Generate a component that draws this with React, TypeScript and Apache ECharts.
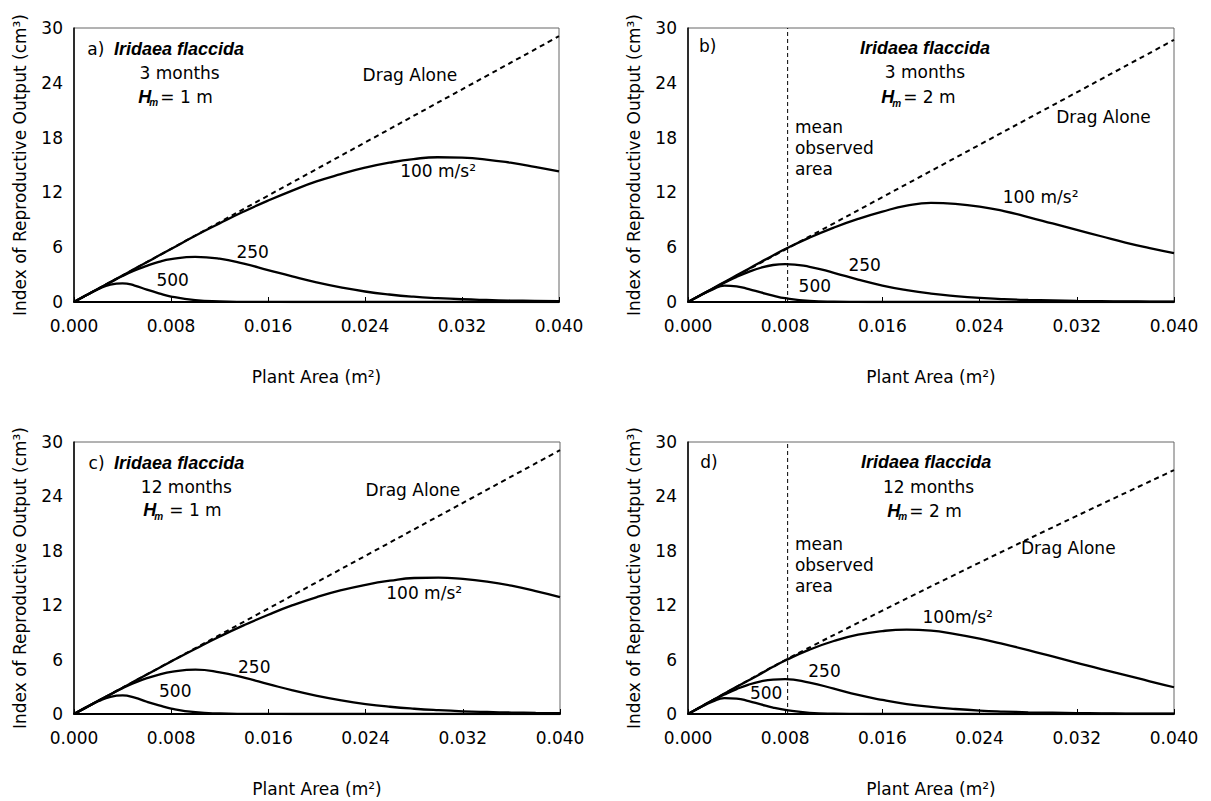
import React, { useEffect, useRef } from "react";
import * as echarts from "echarts";

// Plant area samples (m^2) shared by all curves
const areas = [0, 0.001, 0.002, 0.003, 0.004, 0.005, 0.006, 0.007, 0.008, 0.010, 0.012, 0.014, 0.016, 0.018, 0.020, 0.022, 0.024, 0.026, 0.028, 0.030, 0.032, 0.034, 0.036, 0.038, 0.040];
const xTicks = [0, 0.008, 0.016, 0.024, 0.032, 0.04];
const yTicks = [0, 6, 12, 18, 24, 30];

// Panel a) 3 months, Hm = 1 m
const a100 = [0, 0.73, 1.45, 2.18, 2.9, 3.63, 4.35, 5.08, 5.8, 7.25, 8.6, 9.9, 11.1, 12.2, 13.2, 14.0, 14.7, 15.25, 15.65, 15.85, 15.8, 15.6, 15.25, 14.8, 14.3];
const a250 = [0, 0.73, 1.45, 2.15, 2.85, 3.45, 3.95, 4.4, 4.7, 4.95, 4.75, 4.2, 3.5, 2.8, 2.15, 1.6, 1.15, 0.82, 0.58, 0.42, 0.3, 0.22, 0.16, 0.12, 0.09];
const a500 = [0, 0.73, 1.4, 1.9, 2.05, 1.8, 1.35, 0.95, 0.6, 0.2, 0.06, 0.02, 0.01, 0, 0, 0, 0, 0, 0, 0, 0, 0, 0, 0, 0];
const aDragAreas = [0, 0.04];
const aDrag = [0, 29.1];

// Panel b) 3 months, Hm = 2 m
const b100 = [0, 0.73, 1.46, 2.19, 2.92, 3.65, 4.38, 5.1, 5.8, 7.05, 8.15, 9.1, 9.9, 10.55, 10.85, 10.75, 10.45, 9.95, 9.3, 8.6, 7.9, 7.2, 6.5, 5.9, 5.35];
const b250 = [0, 0.72, 1.43, 2.1, 2.75, 3.3, 3.75, 4.05, 4.15, 3.85, 3.2, 2.45, 1.8, 1.3, 0.92, 0.65, 0.45, 0.32, 0.23, 0.17, 0.12, 0.09, 0.07, 0.05, 0.04];
const b500 = [0, 0.72, 1.35, 1.8, 1.72, 1.42, 1.05, 0.7, 0.42, 0.12, 0.03, 0.01, 0, 0, 0, 0, 0, 0, 0, 0, 0, 0, 0, 0, 0];
const bDragAreas = [0, 0.04];
const bDrag = [0, 28.7];

// Panel c) 12 months, Hm = 1 m
const c100 = [0, 0.73, 1.45, 2.18, 2.9, 3.63, 4.35, 5.08, 5.8, 7.2, 8.55, 9.8, 10.95, 12.0, 12.9, 13.65, 14.25, 14.7, 15.0, 15.05, 14.9, 14.6, 14.15, 13.55, 12.9];
const c250 = [0, 0.73, 1.45, 2.15, 2.85, 3.45, 3.95, 4.35, 4.65, 4.9, 4.6, 4.0, 3.3, 2.6, 2.0, 1.5, 1.1, 0.8, 0.58, 0.42, 0.3, 0.22, 0.16, 0.12, 0.09];
const c500 = [0, 0.73, 1.4, 1.9, 2.05, 1.8, 1.35, 0.95, 0.6, 0.2, 0.06, 0.02, 0.01, 0, 0, 0, 0, 0, 0, 0, 0, 0, 0, 0, 0];
const cDragAreas = [0, 0.04];
const cDrag = [0, 29.1];

// Panel d) 12 months, Hm = 2 m
const d100 = [0, 0.75, 1.5, 2.25, 3.0, 3.72, 4.45, 5.2, 5.9, 7.1, 8.05, 8.75, 9.15, 9.3, 9.2, 8.8, 8.3, 7.7, 7.05, 6.35, 5.65, 4.95, 4.3, 3.6, 2.95];
const d250 = [0, 0.75, 1.48, 2.15, 2.75, 3.25, 3.6, 3.8, 3.85, 3.45, 2.8, 2.1, 1.55, 1.1, 0.78, 0.55, 0.38, 0.27, 0.19, 0.14, 0.1, 0.07, 0.05, 0.04, 0.03];
const d500 = [0, 0.72, 1.35, 1.74, 1.7, 1.42, 1.05, 0.7, 0.45, 0.13, 0.03, 0.01, 0, 0, 0, 0, 0, 0, 0, 0, 0, 0, 0, 0, 0];
const dDragAreas = [0, 0.004, 0.008, 0.016, 0.024, 0.032, 0.04];
const dDrag = [0, 3.0, 5.95, 11.4, 16.7, 21.85, 26.9];

const meanObservedArea = 0.0082;

const panels = [
  { letter: "a)", months: "3 months", hm: "1 m", c100: a100, c250: a250, c500: a500, dragX: aDragAreas, drag: aDrag, mean: false, label100: "100 m/s²" },
  { letter: "b)", months: "3 months", hm: "2 m", c100: b100, c250: b250, c500: b500, dragX: bDragAreas, drag: bDrag, mean: true, label100: "100 m/s²" },
  { letter: "c)", months: "12 months", hm: "1 m", c100: c100, c250: c250, c500: c500, dragX: cDragAreas, drag: cDrag, mean: false, label100: "100 m/s²" },
  { letter: "d)", months: "12 months", hm: "2 m", c100: d100, c250: d250, c500: d500, dragX: dDragAreas, drag: dDrag, mean: true, label100: "100m/s²" },
];

// Layout (pixels)
const grids = [
  { left: 74, top: 28, width: 485, height: 274 },
  { left: 688, top: 28, width: 486, height: 274 },
  { left: 74, top: 442, width: 486, height: 272 },
  { left: 688, top: 442, width: 486, height: 272 },
];

// annotation positions in data coordinates [x, y], alignment
const annot = [
  {
    letter: [0.0011, 27.7], species: [0.0033, 27.7, "left"], months: [0.0054, 25.1, "left"], hm: [0.0053, 22.5], hmGap: 22,
    drag: [0.0238, 24.8], l100: [0.0269, 14.3], l250: [0.0134, 5.5], l500: [0.0068, 2.4],
  },
  {
    letter: [0.0009, 28.0], species: [0.0195, 27.8, "center"], months: [0.0195, 25.2, "center"], hm: [0.0159, 22.4], hmGap: 22,
    drag: [0.0303, 20.3], l100: [0.0259, 11.5], l250: [0.0132, 4.1], l500: [0.0091, 1.7], meanText: [0.0088, 19.2],
  },
  {
    letter: [0.0012, 27.7], species: [0.0033, 27.7, "left"], months: [0.0055, 25.05, "left"], hm: [0.0057, 22.5], hmGap: 26,
    drag: [0.024, 24.7], l100: [0.0257, 13.3], l250: [0.0135, 5.2], l500: [0.007, 2.5],
  },
  {
    letter: [0.001, 27.8], species: [0.0196, 27.8, "center"], months: [0.0198, 25.05, "center"], hm: [0.0164, 22.4], hmGap: 22,
    drag: [0.0274, 18.3], l100: [0.0193, 10.7], l250: [0.0099, 4.7], l500: [0.0051, 2.3], meanText: [0.0088, 18.8],
  },
];

const FONT = '"DejaVu Sans", "Liberation Sans", sans-serif';
const SPECIES_FONT = '"Liberation Sans", Arial, sans-serif';

function px(i: number, x: number, y: number): [number, number] {
  const g = grids[i];
  return [g.left + (x / 0.04) * g.width, g.top + (1 - y / 30) * g.height];
}

function txt(i: number, pos: number[], text: string, align = "left", extra: any = {}) {
  const [x, y] = px(i, pos[0], pos[1]);
  return {
    type: "text",
    x,
    y,
    silent: true,
    style: {
      text,
      fill: "#000",
      fontSize: 17,
      fontFamily: FONT,
      align,
      verticalAlign: "middle",
      textAlign: align,
      textVerticalAlign: "middle",
      ...extra,
    },
  };
}

function buildOption() {
  const series: any[] = [];
  const graphics: any[] = [];
  panels.forEach((p, i) => {
    series.push({
      type: "line",
      xAxisIndex: i,
      yAxisIndex: i,
      data: p.dragX.map((a, k) => [a, p.drag[k]]),
      symbol: "none",
      smooth: 0.4,
      lineStyle: { color: "#000", width: 2, type: [5, 4] },
      z: 2,
    });
    [p.c100, p.c250, p.c500].forEach((vals) => {
      series.push({
        type: "line",
        xAxisIndex: i,
        yAxisIndex: i,
        data: areas.map((a, k) => [a, vals[k]]),
        symbol: "none",
        smooth: 0.5,
        lineStyle: { color: "#000", width: 2.3 },
        z: 3,
      });
    });
    if (p.mean) {
      series.push({
        type: "line",
        xAxisIndex: i,
        yAxisIndex: i,
        data: [[meanObservedArea, 0], [meanObservedArea, 30]],
        symbol: "none",
        lineStyle: { color: "#000", width: 1, type: [4, 3] },
        z: 1,
      });
    }
    const an: any = annot[i];
    graphics.push(txt(i, an.letter, p.letter));
    graphics.push(
      txt(i, an.species, "Iridaea flaccida", an.species[2], {
        fontStyle: "italic",
        fontWeight: "bold",
        fontSize: 18,
        fontFamily: SPECIES_FONT,
      })
    );
    graphics.push(txt(i, an.months, p.months, an.months[2]));
    const [hx, hy] = px(i, an.hm[0], an.hm[1]);
    graphics.push({
      type: "text", x: hx, y: hy, silent: true,
      style: { text: "H", fill: "#000", fontSize: 18, fontStyle: "italic", fontWeight: "bold", fontFamily: SPECIES_FONT, align: "left", verticalAlign: "middle" },
    });
    graphics.push({
      type: "text", x: hx + 11, y: hy + 6, silent: true,
      style: { text: "m", fill: "#000", fontSize: 10, fontStyle: "italic", fontWeight: "bold", fontFamily: SPECIES_FONT, align: "left", verticalAlign: "middle" },
    });
    graphics.push({
      type: "text", x: hx + an.hmGap, y: hy, silent: true,
      style: { text: "= " + p.hm, fill: "#000", fontSize: 17, fontFamily: FONT, align: "left", verticalAlign: "middle" },
    });
    graphics.push(txt(i, an.drag, "Drag Alone"));
    graphics.push(txt(i, an.l100, p.label100));
    graphics.push(txt(i, an.l250, "250"));
    graphics.push(txt(i, an.l500, "500"));
    if (an.meanText) {
      const [mx, my] = px(i, an.meanText[0], an.meanText[1]);
      graphics.push({
        type: "text", x: mx, y: my - 10, silent: true,
        style: { text: "mean\nobserved\narea", fill: "#000", fontSize: 17, fontFamily: FONT, lineHeight: 21, align: "left", verticalAlign: "top" },
      });
    }
  });

  return {
    animation: false,
    backgroundColor: "#fff",
    grid: grids.map((g) => ({ ...g, show: true, borderColor: "#666", borderWidth: 1, containLabel: false })),
    xAxis: grids.map((_, i) => ({
      gridIndex: i,
      type: "value",
      min: xTicks[0],
      max: xTicks[xTicks.length - 1],
      interval: 0.008,
      axisLine: { show: true, onZero: false, lineStyle: { color: "#000", width: 2 } },
      axisTick: { show: true, inside: true, length: 5, lineStyle: { color: "#000", width: 1 } },
      axisLabel: { formatter: (v: number) => v.toFixed(3), color: "#000", fontSize: 17, fontFamily: FONT, margin: 15 },
      splitLine: { show: false },
      name: "Plant Area (m²)",
      nameLocation: "middle",
      nameGap: 66,
      nameTextStyle: { color: "#000", fontSize: 17, fontFamily: FONT },
    })),
    yAxis: grids.map((_, i) => ({
      gridIndex: i,
      type: "value",
      min: yTicks[0],
      max: yTicks[yTicks.length - 1],
      interval: 6,
      axisLine: { show: true, onZero: false, lineStyle: { color: "#000", width: 1.5 } },
      axisTick: { show: false },
      axisLabel: { color: "#000", fontSize: 17, fontFamily: FONT, margin: 11 },
      splitLine: { show: false },
      name: "Index of Reproductive Output (cm³)",
      nameLocation: "middle",
      nameGap: 46,
      nameTextStyle: { color: "#000", fontSize: 17, fontFamily: FONT },
    })),
    series,
    graphic: graphics,
  };
}

export default function App() {
  const ref = useRef<HTMLDivElement>(null);
  useEffect(() => {
    if (!ref.current) return;
    const chart = echarts.init(ref.current, undefined, { renderer: "svg" });
    chart.setOption(buildOption() as any);
    return () => chart.dispose();
  }, []);
  return (
    <div
      ref={ref}
      style={{ position: "fixed", left: 0, top: 0, width: 1211, height: 801, background: "#fff" }}
    />
  );
}
